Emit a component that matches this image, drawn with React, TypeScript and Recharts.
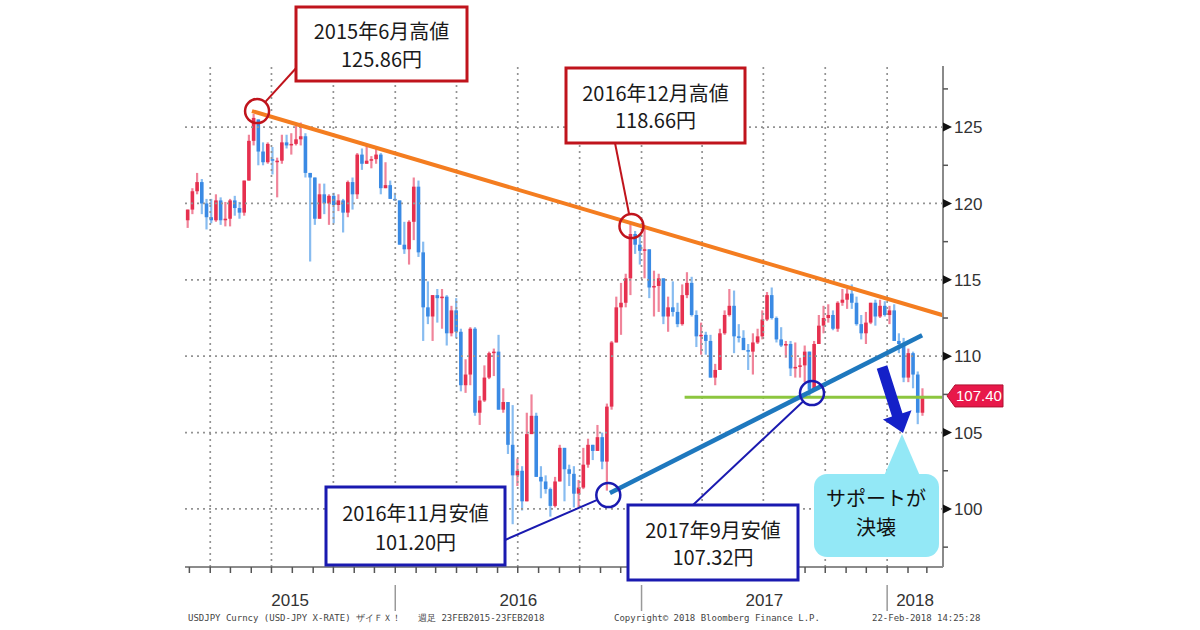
import React from "react";
import {
  ComposedChart,
  Bar,
  XAxis,
  YAxis,
  ReferenceLine,
  ReferenceDot,
} from "recharts";

// USD/JPY weekly candles (week ending Friday), 2015-02-27 .. 2018-02-23
// each row: [open, high, low, close]
const w2015 = [
  [118.9, 119.6, 118.4, 119.6], [119.6, 121.0, 119.3, 120.8], [120.8, 122.0, 120.6, 121.4], [121.4, 121.6, 119.3, 120.0],
  [120.0, 120.3, 118.3, 119.1], [119.1, 120.3, 118.7, 118.9], [118.9, 120.6, 118.8, 120.2], [120.2, 120.4, 118.6, 118.9],
  [118.9, 120.1, 118.5, 119.0], [119.0, 120.3, 118.5, 120.2], [120.2, 120.5, 119.2, 119.7], [119.7, 120.1, 119.0, 119.4],
  [119.4, 121.5, 119.2, 121.5], [121.5, 124.5, 121.5, 124.1], [124.1, 125.86, 123.8, 125.6], [125.5, 125.5, 122.5, 123.4],
  [123.4, 124.0, 122.5, 122.7], [122.7, 124.0, 122.6, 123.9], [122.9, 123.7, 121.9, 122.8], [122.7, 123.0, 120.4, 122.8],
  [122.8, 124.5, 122.6, 124.0], [124.0, 124.5, 123.6, 123.8], [123.8, 124.6, 123.2, 123.9], [123.9, 125.1, 123.8, 124.2],
  [124.2, 125.3, 123.8, 124.4], [124.4, 124.6, 121.7, 122.0], [122.0, 122.0, 116.2, 121.7], [121.7, 121.7, 118.6, 119.0],
  [119.0, 121.3, 119.0, 120.6], [120.6, 121.3, 119.3, 120.0], [120.0, 120.6, 118.6, 120.5], [120.5, 120.7, 118.7, 119.9],
  [119.9, 120.6, 119.5, 120.2], [120.2, 120.3, 118.1, 119.4], [119.4, 121.5, 119.1, 121.4], [121.4, 121.7, 119.6, 120.6],
  [120.6, 123.3, 120.3, 123.2], [123.2, 123.6, 122.2, 122.6], [122.6, 123.8, 122.6, 122.8], [122.8, 123.1, 122.3, 122.9],
  [122.9, 123.7, 122.6, 123.2], [123.2, 123.3, 120.6, 121.0], [121.0, 122.7, 121.0, 121.2], [121.2, 121.5, 120.3, 120.3],
];
const w2016 = [
  [120.3, 120.7, 120.2, 120.2], [120.2, 120.2, 117.3, 117.3], [117.3, 118.8, 116.7, 117.0], [117.0, 118.9, 116.0, 118.8],
  [118.8, 121.7, 117.6, 121.1], [121.1, 121.5, 116.5, 116.8], [116.8, 117.5, 111.0, 113.2], [113.2, 114.9, 112.1, 112.6],
  [112.6, 114.0, 111.0, 114.0], [114.0, 114.4, 112.2, 113.8], [113.8, 114.4, 111.8, 113.9], [113.9, 114.0, 110.7, 111.5],
  [111.5, 113.3, 111.3, 113.0], [113.0, 113.8, 111.2, 111.6], [111.6, 111.8, 107.7, 108.1], [108.1, 109.8, 107.6, 108.8],
  [108.8, 111.9, 108.1, 111.8], [111.8, 111.9, 106.1, 106.3], [106.3, 107.4, 105.5, 107.1], [107.1, 109.4, 107.0, 108.6],
  [108.6, 110.3, 108.5, 110.2], [110.2, 110.5, 108.7, 110.3], [110.3, 111.4, 106.5, 106.5], [106.5, 107.9, 106.3, 107.0],
  [107.0, 107.0, 103.6, 104.2], [104.2, 106.8, 99.0, 102.2], [102.2, 103.3, 101.5, 102.5], [102.5, 102.8, 99.9, 100.5],
  [100.5, 106.3, 100.5, 104.9], [104.9, 107.5, 104.9, 106.1], [106.1, 106.3, 102.1, 102.1], [102.1, 102.8, 100.7, 101.8],
  [101.8, 102.2, 101.0, 101.3], [101.3, 101.4, 99.5, 100.2], [100.2, 102.1, 100.1, 101.8], [101.8, 104.2, 101.8, 104.0],
  [104.0, 104.0, 100.5, 102.6], [102.6, 102.9, 101.5, 102.3], [102.3, 102.8, 100.1, 101.0], [101.0, 101.9, 100.1, 101.4],
  [101.4, 104.0, 101.3, 102.9], [102.9, 104.6, 102.7, 104.2], [104.2, 104.2, 103.2, 103.8], [103.8, 105.5, 103.8, 104.7],
  [104.7, 105.0, 102.6, 103.1], [103.1, 106.9, 101.2, 106.7], [106.7, 111.0, 106.5, 110.9], [110.9, 113.9, 110.9, 113.2],
  [113.2, 114.8, 111.4, 113.5], [113.5, 115.4, 113.2, 115.1], [115.1, 118.66, 114.0, 118.0], [118.0, 118.2, 116.7, 117.3],
  [117.3, 118.0, 116.0, 116.9],
];
const w2017 = [
  [116.9, 118.6, 115.1, 117.0], [117.0, 117.0, 113.8, 114.5], [114.5, 115.6, 112.6, 114.6], [114.6, 115.4, 112.9, 115.1],
  [115.1, 115.1, 112.1, 112.6], [112.6, 113.9, 111.6, 113.2], [113.2, 114.9, 112.6, 112.9], [112.9, 113.5, 111.9, 112.1],
  [112.1, 114.7, 112.0, 114.0], [114.0, 115.5, 113.8, 114.8], [114.8, 115.2, 112.6, 112.7], [112.7, 113.0, 110.6, 111.3],
  [111.3, 112.2, 110.1, 111.4], [111.4, 111.6, 110.1, 111.0], [111.0, 111.4, 108.6, 108.6], [108.6, 109.5, 108.1, 109.1],
  [109.1, 111.8, 109.1, 111.5], [111.5, 113.0, 111.4, 112.7], [112.7, 114.4, 112.6, 113.3], [113.3, 114.3, 110.2, 111.3],
  [111.3, 112.1, 110.9, 111.2], [111.2, 111.7, 110.4, 110.4], [110.4, 110.8, 109.1, 110.3], [110.3, 111.5, 108.8, 110.9],
  [110.9, 111.8, 110.8, 111.3], [111.3, 113.0, 111.1, 112.4], [112.4, 114.2, 112.3, 114.0], [114.0, 114.5, 112.4, 112.5],
  [112.5, 112.6, 110.9, 111.1], [111.1, 111.9, 110.6, 110.7], [110.7, 111.0, 109.9, 110.8], [110.8, 111.0, 108.7, 109.2],
  [109.2, 110.9, 108.6, 109.3], [109.3, 109.9, 108.6, 109.4], [109.4, 110.7, 108.3, 110.3], [110.3, 110.3, 107.32, 107.8],
  [107.8, 111.0, 107.8, 110.8], [110.8, 112.7, 110.8, 112.0], [112.0, 113.3, 111.5, 112.5], [112.5, 113.4, 112.2, 112.7],
  [112.7, 113.0, 111.7, 111.8], [111.8, 113.6, 111.6, 113.5], [113.5, 114.4, 113.3, 113.7], [113.7, 114.4, 113.1, 114.1],
  [114.1, 114.7, 113.1, 113.5], [113.5, 113.9, 112.0, 112.1], [112.1, 112.7, 111.1, 111.5], [111.5, 112.9, 110.8, 112.2],
  [112.2, 113.5, 112.1, 113.5], [113.5, 113.7, 112.0, 112.6], [112.6, 113.7, 112.5, 113.3], [113.3, 113.6, 112.6, 112.7],
];
const w2018 = [
  [112.7, 113.3, 112.1, 113.0], [113.0, 113.4, 111.0, 111.0], [111.0, 111.5, 110.2, 110.8], [110.8, 111.2, 108.3, 108.6],
  [108.6, 110.5, 108.3, 110.2], [110.2, 110.3, 107.9, 108.8], [108.8, 109.0, 105.55, 106.3], [106.3, 107.9, 106.1, 107.4],
];

const yearLabels = ["2015", "2016", "2017", "2018"];
const priceTicks = [100, 105, 110, 115, 120, 125];
const minorTicks = [97.5, 102.5, 107.5, 112.5, 117.5, 122.5, 127.5];
const lastPrice = 107.4;

// trend lines, x in days since 2015-01-01
const highLine = [{ x: 152, y: 126.05 }, { x: 1179, y: 112.68 }];
const lowLine = [{ x: 684, y: 101.04 }, { x: 1148, y: 111.38 }];
const supportLine = [{ x: 795, y: 107.32 }, { x: 1179, y: 107.32 }];

const RED = "#e6304f";
const RED_WICK = "#f0849a";
const BLUE = "#3a8ae4";
const BLUE_WICK = "#88bcf0";
const BOX_RED = "#c0141c";
const BOX_BLUE = "#1a1ab0";
const JP_FONT = "'Noto Sans CJK JP', 'Noto Sans', sans-serif";
const AX_FONT = "'Liberation Sans', Arial, sans-serif";

const notes = [
  { lines: ["2015年6月高値", "125.86円"], color: BOX_RED, t: 159.6, v: 126.05, box: [296, 7, 171, 74], from: [298, 66] },
  { lines: ["2016年12月高値", "118.66円"], color: BOX_RED, t: 716, v: 118.52, box: [566, 68, 179, 75], from: [615, 143] },
  { lines: ["2016年11月安値", "101.20円"], color: BOX_BLUE, t: 681.6, v: 100.91, box: [326, 487, 179, 78], from: [505, 540] },
  { lines: ["2017年9月安値", "107.32円"], color: BOX_BLUE, t: 984.3, v: 107.59, box: [628, 505, 170, 75], from: [693, 505] },
];

const W = 1200;
const H = 630;
const PLOT_L = 185;
const PLOT_R = 943;
const PLOT_T = 66;
const PLOT_B = 567;
const X_DOMAIN = [52.5, 1179];
const Y_DOMAIN = [96.2, 129];
const Y_AXIS_W = 60;
const X_AXIS_H = 50;

const dayOf = (y: number, m: number, d: number) =>
  (Date.UTC(y, m, d) - Date.UTC(2015, 0, 1)) / 86400000;

const px = (t: number) =>
  PLOT_L + ((t - X_DOMAIN[0]) / (X_DOMAIN[1] - X_DOMAIN[0])) * (PLOT_R - PLOT_L);
const py = (v: number) =>
  PLOT_T + ((Y_DOMAIN[1] - v) / (Y_DOMAIN[1] - Y_DOMAIN[0])) * (PLOT_B - PLOT_T);

const weeks = [...w2015, ...w2016, ...w2017, ...w2018];
const firstWeek = dayOf(2015, 1, 27);
const rows = weeks.map(([o, h, l, c], i) => ({
  t: firstWeek + 7 * i,
  range: [l, h],
  o,
  h,
  l,
  c,
}));

const monthTicks: number[] = [];
const quarterLines: number[] = [];
const janTicks: number[] = [];
for (let y = 2015; y <= 2018; y++) {
  for (let m = 0; m < 12; m++) {
    const t = dayOf(y, m, 1);
    if (t <= X_DOMAIN[0] || t >= X_DOMAIN[1]) continue;
    monthTicks.push(t);
    if (m % 3 === 0) quarterLines.push(t);
    if (m === 0) janTicks.push(t);
  }
}
const yearCenters = yearLabels.map((label) => {
  const y = Number(label);
  const a = Math.max(X_DOMAIN[0], dayOf(y, 0, 1));
  const b = Math.min(X_DOMAIN[1], dayOf(y + 1, 0, 1));
  return (a + b) / 2;
});

function Candle(props: any) {
  const { x, y, width, height, payload } = props;
  if (!payload) return null;
  const { o, h, l, c } = payload;
  const top = Math.min(y, y + height);
  const hgt = Math.abs(height);
  const ppu = h > l ? hgt / (h - l) : 0;
  const yOf = (v: number) => top + (h - v) * ppu;
  const cx = x + width / 2;
  const up = c >= o;
  const b1 = yOf(Math.max(o, c));
  const b2 = yOf(Math.min(o, c));
  return (
    <g>
      <line x1={cx} x2={cx} y1={top} y2={top + hgt} stroke={up ? RED_WICK : BLUE_WICK} strokeWidth={2.2} />
      <rect x={cx - 1.8} width={3.6} y={b1} height={Math.max(1, b2 - b1)} fill={up ? RED : BLUE} />
    </g>
  );
}

function YTick(props: any) {
  const { x, y, payload } = props;
  const v = payload.value;
  if (priceTicks.includes(v)) {
    return (
      <g>
        <polygon points={`${x},${y - 4.5} ${x + 9},${y} ${x},${y + 4.5}`} fill="#111" />
        <text x={x + 11} y={y} dy="0.36em" fontSize={17} fill="#333" fontFamily={AX_FONT}>
          {v}
        </text>
      </g>
    );
  }
  return <line x1={x} x2={x + 5} y1={y} y2={y} stroke="#555" strokeWidth={1.5} />;
}

function XTick(props: any) {
  const { x, y, payload } = props;
  const v = payload.value;
  const yi = yearCenters.indexOf(v);
  if (yi >= 0) {
    return (
      <text x={x} y={y + 39} textAnchor="middle" fontSize={17} fill="#333" fontFamily={AX_FONT}>
        {yearLabels[yi]}
      </text>
    );
  }
  return (
    <g>
      <line x1={x} x2={x} y1={y} y2={y + 6} stroke="#555" strokeWidth={1.5} />
      {janTicks.includes(v) && (
        <line x1={x} x2={x} y1={y + 18} y2={y + 44} stroke="#999" strokeWidth={1.5} />
      )}
    </g>
  );
}

function arrowPoints(x0: number, y0: number, x1: number, y1: number) {
  const len = Math.hypot(x1 - x0, y1 - y0);
  const ux = (x1 - x0) / len;
  const uy = (y1 - y0) / len;
  const nx = -uy;
  const ny = ux;
  const neckX = x1 - ux * 19;
  const neckY = y1 - uy * 19;
  const p = (a: number, b: number, w: number) => `${a + nx * w},${b + ny * w}`;
  return [
    p(x0, y0, 5.5), p(neckX, neckY, 5.5), p(neckX, neckY, 15), `${x1},${y1}`,
    p(neckX, neckY, -15), p(neckX, neckY, -5.5), p(x0, y0, -5.5),
  ].join(" ");
}

function Overlay() {
  const tagY = py(lastPrice);
  return (
    <svg width={W} height={H} style={{ position: "absolute", left: 0, top: 0, pointerEvents: "none" }}>
      {notes.map((n, i) => {
        const cx = px(n.t);
        const cy = py(n.v);
        const dx = n.from[0] - cx;
        const dy = n.from[1] - cy;
        const d = Math.hypot(dx, dy);
        const [bx, by, bw, bh] = n.box;
        return (
          <g key={i}>
            <line x1={n.from[0]} y1={n.from[1]} x2={cx + (dx / d) * 12} y2={cy + (dy / d) * 12} stroke={n.color} strokeWidth={2} />
            <rect x={bx} y={by} width={bw} height={bh} fill="#fff" stroke={n.color} strokeWidth={3} />
            {n.lines.map((s, j) => (
              <text key={j} x={bx + bw / 2} y={by + bh * (j === 0 ? 0.34 : 0.71)} dy="0.36em" textAnchor="middle" fontSize={20} fill="#1a1a1a" fontFamily={JP_FONT}>
                {s}
              </text>
            ))}
          </g>
        );
      })}

      <polygon points={arrowPoints(882, 367, 903, 433)} fill="#1420c8" />

      <rect x={814} y={474} width={125} height={83} rx={13} fill="#93e8f6" />
      <polygon points="884,476 902,434 920,476" fill="#93e8f6" />
      <text x={876} y={499} dy="0.36em" textAnchor="middle" fontSize={20} fill="#111" fontFamily={JP_FONT}>
        サポートが
      </text>
      <text x={876} y={528} dy="0.36em" textAnchor="middle" fontSize={20} fill="#111" fontFamily={JP_FONT}>
        決壊
      </text>

      <polygon
        points={`${PLOT_R + 4},${tagY} ${PLOT_R + 12},${tagY - 11} 1003,${tagY - 11} 1003,${tagY + 11} ${PLOT_R + 12},${tagY + 11}`}
        fill="#e8184a"
        stroke="#b01030"
        strokeWidth={1}
      />
      <text x={956} y={tagY} dy="0.36em" fontSize={15} fill="#fff" fontFamily={AX_FONT}>
        {lastPrice.toFixed(2)}
      </text>

      <g fontFamily="'DejaVu Sans Mono', monospace" fontSize={9} fill="#444">
        <text x={188} y={621}>USDJPY Curncy (USD-JPY X-RATE) ザイＦＸ！</text>
        <text x={418} y={621}>週足 23FEB2015-23FEB2018</text>
        <text x={614} y={621}>Copyright© 2018 Bloomberg Finance L.P.</text>
        <text x={872} y={621}>22-Feb-2018 14:25:28</text>
      </g>
    </svg>
  );
}

export default function App() {
  return (
    <div style={{ position: "absolute", left: 0, top: 0, width: W, height: H, background: "#fff", overflow: "hidden" }}>
      <ComposedChart
        width={W}
        height={H}
        data={rows}
        margin={{ top: PLOT_T, left: PLOT_L, right: W - PLOT_R - Y_AXIS_W, bottom: H - PLOT_B - X_AXIS_H }}
      >
        <XAxis
          type="number"
          dataKey="t"
          domain={X_DOMAIN}
          allowDataOverflow
          ticks={[...monthTicks, ...yearCenters]}
          interval={0}
          tick={<XTick />}
          tickLine={false}
          tickSize={0}
          tickMargin={0}
          height={X_AXIS_H}
          axisLine={{ stroke: "#666", strokeWidth: 1.5 }}
        />
        <YAxis
          orientation="right"
          type="number"
          domain={Y_DOMAIN}
          allowDataOverflow
          ticks={[...minorTicks, ...priceTicks].sort((a, b) => a - b)}
          interval={0}
          tick={<YTick />}
          tickLine={false}
          tickSize={0}
          tickMargin={0}
          width={Y_AXIS_W}
          axisLine={{ stroke: "#8a8a8a", strokeWidth: 2 }}
        />
        {priceTicks.map((v) => (
          <ReferenceLine key={`h${v}`} y={v} stroke="#939393" strokeWidth={1.7} strokeDasharray="2 4" />
        ))}
        {quarterLines.map((t) => (
          <ReferenceLine key={`v${t}`} x={t} stroke="#939393" strokeWidth={1.7} strokeDasharray="2 4" />
        ))}
        <Bar dataKey="range" barSize={4} shape={<Candle />} isAnimationActive={false} />
        <ReferenceLine segment={supportLine} stroke="#8cc63f" strokeWidth={3} />
        <ReferenceLine segment={highLine} stroke="#f47d20" strokeWidth={4} />
        <ReferenceLine segment={lowLine} stroke="#1e78be" strokeWidth={4.5} />
        {notes.map((n, i) => (
          <ReferenceDot key={i} x={n.t} y={n.v} r={12} fill="none" stroke={n.color} strokeWidth={2.5} />
        ))}
      </ComposedChart>
      <Overlay />
    </div>
  );
}
